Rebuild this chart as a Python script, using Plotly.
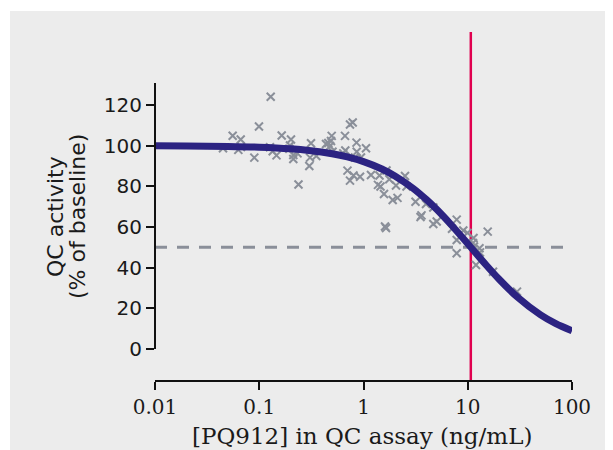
import plotly.graph_objects as go

# ---- data ----
conc = [0.0449, 0.0556, 0.0664, 0.0630, 0.0668, 0.0897, 0.0994, 0.1288, 0.1268, 0.1346,
        0.1464, 0.1642, 0.2016, 0.1972, 0.1942, 0.2122, 0.2122, 0.2328, 0.2379, 0.3137,
        0.3068, 0.3021, 0.3525, 0.4368, 0.4597, 0.4955, 0.4878, 0.4772, 0.5042, 0.640,
        0.6645, 0.669, 0.742, 0.788, 0.857, 0.861, 0.829, 0.946, 1.057, 0.702,
        0.742, 0.802, 0.926, 1.180, 1.424, 1.377, 1.456, 1.573, 1.662, 1.768,
        1.608, 1.644, 1.905, 2.119, 2.050, 2.501, 2.585, 3.154, 3.977, 4.672,
        3.601, 3.523, 5.037, 4.672, 7.834, 7.063, 9.064, 9.945, 7.834, 15.54,
        11.36, 11.48, 12.96, 13.10, 7.834, 12.0, 17.47, 29.68, 11.23]
activity = [98.7, 104.9, 103.0, 97.9, 99.3, 94.1, 109.4, 124.0, 99.2, 97.2,
            95.2, 105.0, 103.0, 100.1, 98.5, 95.4, 93.4, 96.2, 80.9, 101.2,
            94.1, 90.0, 94.9, 100.8, 101.3, 104.8, 102.3, 99.8, 97.0, 96.2,
            104.8, 97.6, 110.4, 111.4, 101.5, 97.0, 94.2, 94.2, 98.7, 87.7,
            82.8, 85.3, 84.7, 85.6, 85.3, 80.7, 79.9, 76.2, 87.8, 83.5,
            60.2, 59.5, 73.3, 74.3, 80.4, 85.1, 79.9, 72.4, 71.3, 69.6,
            65.7, 64.9, 62.7, 61.5, 63.6, 59.1, 58.3, 57.1, 53.6, 57.7,
            54.6, 50.4, 49.5, 47.5, 47.1, 41.3, 38.0, 28.2, 52.1]

curve_x = [0.01, 0.02, 0.05, 0.1, 0.2, 0.3, 0.5, 0.7, 1, 1.5, 2, 3, 4, 5, 7, 10,
           15, 20, 30, 50, 70, 100]
curve_y = [99.93, 99.85, 99.62, 99.23, 98.43, 97.63, 96.03, 94.46, 92.16, 88.53,
           85.12, 78.96, 73.56, 68.81, 60.85, 51.76, 41.31, 34.29, 25.50, 16.74,
           12.42, 8.91]

ic50 = 10.7
half_level = 50
dash_end = 86

x_tickvals = [0.01, 0.1, 1, 10, 100]
x_ticktext = ["0.01", "0.1", "1", "10", "100"]
y_tickvals = [0, 20, 40, 60, 80, 100, 120]

GRAY_BG = "#ececec"
CURVE = "#2c2382"
MARK = "#8a8f99"
RED = "#e0004f"

fig = go.Figure()

fig.add_trace(go.Scatter(
    x=[0.01, dash_end], y=[half_level, half_level], mode="lines",
    line=dict(color=MARK, width=3, dash="12px,10px"), hoverinfo="skip"))

fig.add_trace(go.Scatter(
    x=conc, y=activity, mode="markers",
    marker=dict(symbol="x-thin", size=8, line=dict(color=MARK, width=2), color=MARK)))

fig.add_trace(go.Scatter(
    x=curve_x, y=curve_y, mode="lines",
    line=dict(color=CURVE, width=7, shape="spline", smoothing=0.8)))

OFF = 8  # page body margin
W, H = 613 - OFF, 450 - OFF
# page-pixel positions of the plot frame
PL, PR, PT, PB = 155, 572, 32, 381
L, R, T, B = PL - OFF, W - (PR - OFF), PT - OFF, H - (PB - OFF)
pw, ph = W - L - R, H - T - B

def px(xp):  # page pixel -> paper x
    return (xp - PL) / pw

def py(yp):  # page pixel -> paper y
    return (PB - yp) / ph

# gray panel
fig.add_shape(type="rect", xref="paper", yref="paper",
              x0=px(10), x1=px(640), y0=py(480), y1=py(11),
              fillcolor=GRAY_BG, line=dict(width=0), layer="below")
# IC50 line
fig.add_shape(type="line", xref="x", yref="paper", x0=ic50, x1=ic50, y0=0, y1=1,
              line=dict(color=RED, width=2.5), layer="below")

fig.update_layout(
    width=W, height=H,
    margin=dict(l=L, r=R, t=T, b=B),
    paper_bgcolor="white", plot_bgcolor="rgba(0,0,0,0)",
    showlegend=False,
    xaxis=dict(type="log", range=[-2, 2], showgrid=False, zeroline=False,
               showline=True, linecolor="#111", linewidth=2,
               ticks="outside", ticklen=8, tickwidth=2, tickcolor="#111",
               tickvals=x_tickvals, ticktext=x_ticktext,
               tickfont=dict(family="DejaVu Serif", size=20, color="#1a1a1a"),
               anchor="free", position=0),
    yaxis=dict(range=[0, 130.8], domain=[py(349), py(83)], showgrid=False, zeroline=False,
               showline=True, linecolor="#111", linewidth=2,
               ticks="outside", ticklen=8, tickwidth=2, tickcolor="#111",
               tickvals=y_tickvals,
               tickfont=dict(family="DejaVu Sans", size=20, color="#1a1a1a"),
               anchor="free", position=0),
)

fig.add_annotation(text="[PQ912] in QC assay (ng/mL)", xref="paper", yref="paper",
                   x=px(361.5), y=py(436), showarrow=False, xanchor="center", yanchor="middle",
                   font=dict(family="DejaVu Serif", size=23, color="#1a1a1a"))
fig.add_annotation(text="QC activity", xref="paper", yref="paper",
                   x=px(55), y=py(217), showarrow=False, xanchor="center", yanchor="middle",
                   textangle=-90, font=dict(family="DejaVu Sans", size=22, color="#1a1a1a"))
fig.add_annotation(text="(% of baseline)", xref="paper", yref="paper",
                   x=px(77), y=py(217), showarrow=False, xanchor="center", yanchor="middle",
                   textangle=-90, font=dict(family="DejaVu Sans", size=22, color="#1a1a1a"))

fig.write_html("out.html")
